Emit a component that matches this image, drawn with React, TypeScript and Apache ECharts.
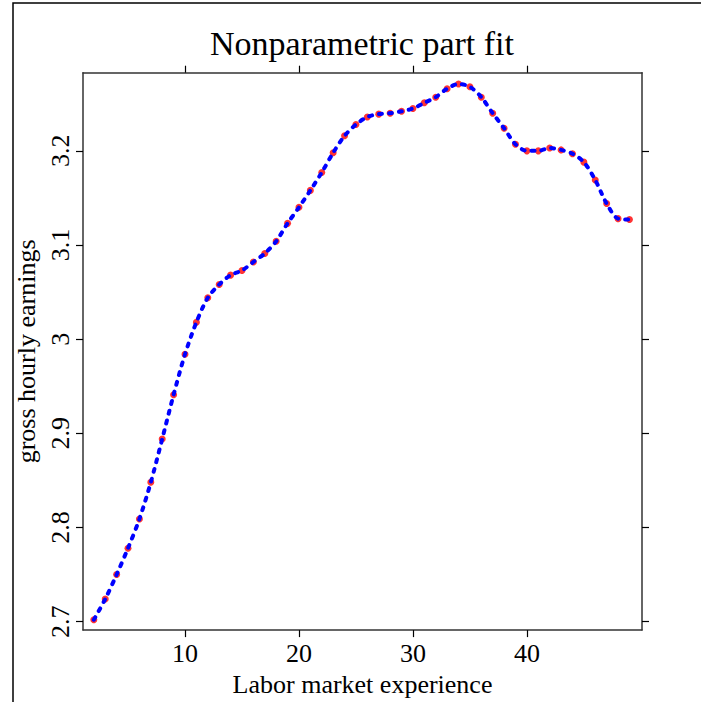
import React, { useEffect, useRef } from "react";
import * as echarts from "echarts";

const experience: number[] = [
  2, 3, 4, 5, 6, 7, 8, 9, 10, 11, 12, 13, 14, 15, 16, 17, 18, 19, 20, 21, 22, 23, 24, 25,
  26, 27, 28, 29, 30, 31, 32, 33, 34, 35, 36, 37, 38, 39, 40, 41, 42, 43, 44, 45, 46, 47, 48, 49,
];
const fitRed: number[] = [
  2.702, 2.724, 2.75, 2.778, 2.809, 2.848, 2.894, 2.941, 2.984, 3.018, 3.044, 3.058,
  3.068, 3.073, 3.082, 3.091, 3.104, 3.123, 3.14, 3.158, 3.177, 3.198, 3.216, 3.228,
  3.236, 3.239, 3.24, 3.242, 3.245, 3.251, 3.257, 3.266, 3.271, 3.268, 3.257, 3.24,
  3.224, 3.207, 3.2, 3.2, 3.203, 3.201, 3.197, 3.188, 3.169, 3.144, 3.128, 3.127,
];
const fitBlue: number[] = fitRed.slice();
const xTicks: number[] = [10, 20, 30, 40];
const yTicks: number[] = [2.7, 2.8, 2.9, 3.0, 3.1, 3.2];

const FONT = "'Liberation Serif', 'DejaVu Serif', serif";

export default function App() {
  const ref = useRef<HTMLDivElement>(null);
  useEffect(() => {
    if (!ref.current) return;
    const chart = echarts.init(ref.current, null, { renderer: "svg" });
    const redData = experience.map((x, i) => [x, fitRed[i]]);
    const blueData = experience.map((x, i) => [x, fitBlue[i]]);
    const axisLine = { show: true, onZero: false, lineStyle: { color: "#333", width: 1.5 } };
    const tickStyle = { show: true, inside: false, length: 7, lineStyle: { color: "#000", width: 1.2 } };
    chart.setOption({
      animation: false,
      backgroundColor: "#fff",
      title: {
        text: "Nonparametric part fit",
        left: 357,
        top: 21,
        textAlign: "center",
        textStyle: { fontFamily: FONT, fontSize: 34, fontWeight: "normal", color: "#000" },
      },
      graphic: [
        {
          type: "rect",
          shape: { x: 13, y: 3, width: 720, height: 720 },
          style: { fill: "none", stroke: "#000", lineWidth: 1.5 },
          silent: true,
        },
      ],
      grid: { left: 83, top: 72.7, right: 59, bottom: 70.3, containLabel: false },
      xAxis: [
        {
          type: "value",
          min: 1.05,
          max: 50.1,
          position: "bottom",
          axisLine,
          axisTick: { ...tickStyle, customValues: xTicks },
          axisLabel: {
            customValues: xTicks,
            margin: 10,
            fontFamily: FONT,
            fontSize: 26,
            color: "#000",
          },
          splitLine: { show: false },
          name: "Labor market experience",
          nameLocation: "middle",
          nameGap: 36,
          nameTextStyle: { fontFamily: FONT, fontSize: 26, color: "#000" },
        },
        {
          type: "value",
          min: 1.05,
          max: 50.1,
          position: "top",
          axisLine,
          axisTick: { ...tickStyle, customValues: xTicks },
          axisLabel: { show: false, customValues: xTicks },
          splitLine: { show: false },
        },
      ],
      yAxis: [
        {
          type: "value",
          min: 2.691,
          max: 3.283,
          position: "left",
          axisLine,
          axisTick: { ...tickStyle, customValues: yTicks },
          axisLabel: {
            customValues: yTicks,
            rotate: 90,
            margin: 10,
            fontFamily: FONT,
            fontSize: 26,
            color: "#000",
            formatter: (v: number) => String(Math.round(v * 10) / 10),
          },
          splitLine: { show: false },
          name: "gross hourly earnings",
          nameLocation: "middle",
          nameRotate: 90,
          nameGap: 42,
          nameTextStyle: { fontFamily: FONT, fontSize: 26, color: "#000" },
        },
        {
          type: "value",
          min: 2.691,
          max: 3.283,
          position: "right",
          axisLine,
          axisTick: { ...tickStyle, customValues: yTicks },
          axisLabel: { show: false, customValues: yTicks },
          splitLine: { show: false },
        },
      ],
      series: [
        {
          type: "scatter",
          name: "fit (red)",
          data: redData,
          symbol: "circle",
          symbolSize: 7,
          itemStyle: { color: "#ff0000" },
          z: 2,
        },
        {
          type: "line",
          name: "fit (blue)",
          data: blueData,
          smooth: 0.3,
          showSymbol: false,
          symbol: "none",
          lineStyle: { color: "#0000ff", width: 4, type: [3, 7], cap: "round" },
          z: 3,
        },
      ],
    });
    return () => chart.dispose();
  }, []);
  return (
    <div
      ref={ref}
      style={{ position: "absolute", left: 0, top: 0, width: 701, height: 702, background: "#fff" }}
    />
  );
}
